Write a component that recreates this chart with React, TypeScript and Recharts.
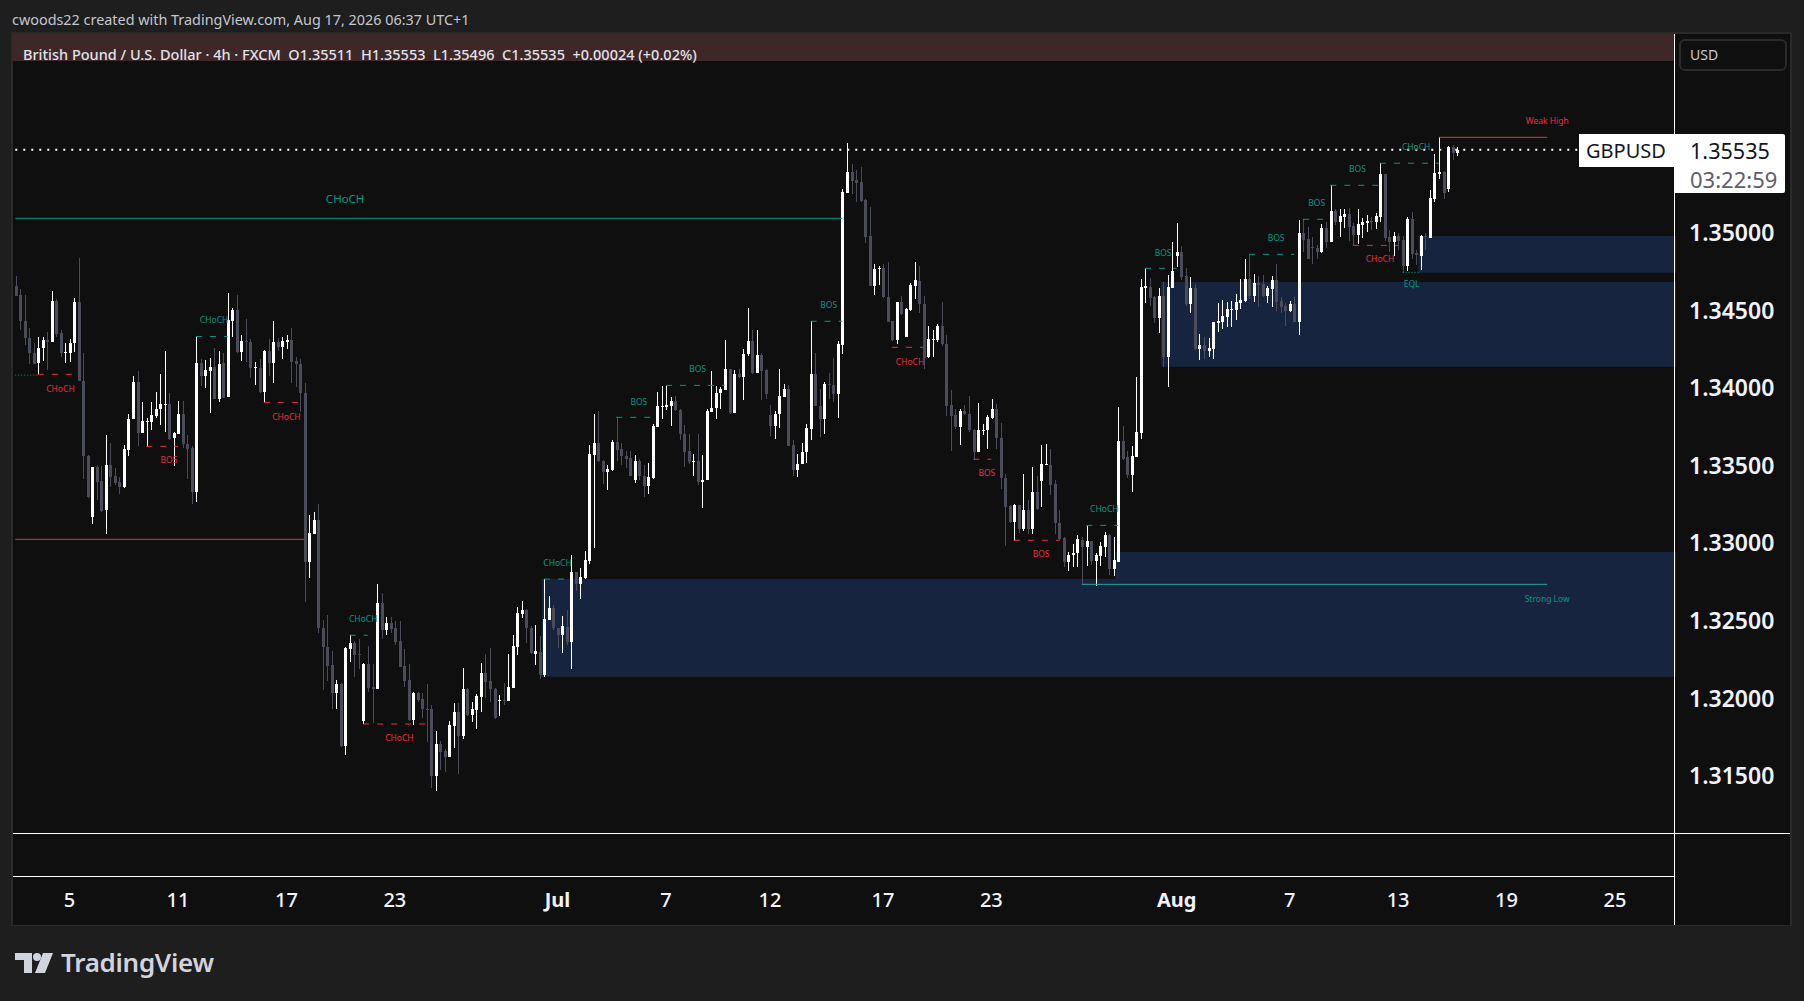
import { Bar, ComposedChart, ReferenceArea, ReferenceDot, ReferenceLine, XAxis, YAxis } from 'recharts';

// [open, high, low, close]
const juneCandles = [
  [1.3466, 1.34724, 1.34591, 1.34595], [1.346, 1.34637, 1.34372, 1.3443], [1.3443, 1.346, 1.3428, 1.34319], [1.34324, 1.34384, 1.34154, 1.34223],
  [1.34227, 1.34292, 1.34154, 1.34154], [1.34158, 1.34326, 1.34089, 1.34257], [1.34257, 1.34326, 1.34177, 1.3431], [1.3431, 1.34361, 1.34119, 1.34296],
  [1.34299, 1.34625, 1.34299, 1.34561], [1.34561, 1.34572, 1.34326, 1.34349], [1.34356, 1.34372, 1.342, 1.34227], [1.34225, 1.34292, 1.34158, 1.34234],
  [1.34227, 1.34315, 1.34165, 1.34289], [1.34287, 1.34579, 1.34234, 1.34552], [1.34552, 1.34839, 1.34045, 1.34045], [1.34045, 1.34223, 1.33413, 1.3356],
  [1.33563, 1.33567, 1.33291, 1.33296], [1.33172, 1.33491, 1.33126, 1.33491], [1.33491, 1.33505, 1.3328, 1.33395], [1.33402, 1.33498, 1.33199, 1.33206],
  [1.33211, 1.33698, 1.33061, 1.33505], [1.33505, 1.33648, 1.3336, 1.33429], [1.33434, 1.33487, 1.33376, 1.3339], [1.33395, 1.33429, 1.33314, 1.33362],
  [1.33362, 1.33631, 1.33358, 1.33608], [1.33602, 1.33832, 1.33563, 1.33802], [1.33797, 1.3408, 1.33797, 1.34039], [1.34039, 1.34108, 1.33625, 1.33712],
  [1.33712, 1.33908, 1.33712, 1.33786], [1.33781, 1.33809, 1.33625, 1.33788], [1.33781, 1.33908, 1.33728, 1.33827], [1.3382, 1.33974, 1.33804, 1.33866],
  [1.33862, 1.34089, 1.33763, 1.33894], [1.33891, 1.34239, 1.33717, 1.33898], [1.33896, 1.3397, 1.33666, 1.33671], [1.33675, 1.33717, 1.33498, 1.3371],
  [1.33701, 1.33919, 1.33701, 1.33832], [1.33832, 1.33919, 1.33613, 1.33636], [1.33641, 1.33694, 1.33411, 1.33608], [1.33613, 1.33625, 1.3325, 1.33333],
  [1.3333, 1.34333, 1.33268, 1.34161], [1.34161, 1.34188, 1.34016, 1.3408], [1.3408, 1.34181, 1.33997, 1.34119], [1.34112, 1.34195, 1.33836, 1.34135],
  [1.34135, 1.34257, 1.33928, 1.3393], [1.3393, 1.34239, 1.33908, 1.34154], [1.34158, 1.34223, 1.33935, 1.33935], [1.3394, 1.34614, 1.3394, 1.34441],
  [1.34434, 1.34517, 1.34326, 1.34503], [1.34503, 1.346, 1.34223, 1.3423], [1.3423, 1.34342, 1.34177, 1.34303], [1.34303, 1.34446, 1.34165, 1.34296],
  [1.34296, 1.34315, 1.34066, 1.34126], [1.34126, 1.3417, 1.3402, 1.34133], [1.34131, 1.34188, 1.3397, 1.33974], [1.33974, 1.34246, 1.33912, 1.34239],
  [1.34239, 1.34315, 1.3408, 1.34158], [1.34158, 1.34434, 1.34034, 1.34296], [1.34296, 1.34319, 1.34239, 1.34262], [1.34262, 1.34326, 1.34184, 1.34303],
  [1.34299, 1.34342, 1.34253, 1.34308], [1.34308, 1.34388, 1.34034, 1.3417], [1.34172, 1.342, 1.34004, 1.34154], [1.34154, 1.34188, 1.33843, 1.33965],
  [1.3397, 1.34032, 1.32624, 1.32882], [1.32882, 1.33183, 1.32779, 1.33065], [1.3306, 1.332, 1.3306, 1.33151], [1.33151, 1.33254, 1.3242, 1.32452],
  [1.32452, 1.32506, 1.32054, 1.32334], [1.32334, 1.32538, 1.32112, 1.32211], [1.32215, 1.32308, 1.31931, 1.32037], [1.32037, 1.32119, 1.31931, 1.32093],
  [1.32093, 1.32097, 1.31689, 1.31693], [1.31693, 1.32334, 1.31635, 1.32327], [1.32318, 1.32409, 1.32237, 1.32357], [1.32357, 1.32372, 1.3214, 1.3228],
  [1.32286, 1.32383, 1.32187, 1.3228], [1.31854, 1.32226, 1.31833, 1.32222], [1.3222, 1.32338, 1.32043, 1.32069], [1.32071, 1.3222, 1.31843, 1.32058],
  [1.32058, 1.32738, 1.32058, 1.32615], [1.32613, 1.32682, 1.32383, 1.32441], [1.32441, 1.32525, 1.32409, 1.32484], [1.32484, 1.32523, 1.3242, 1.3245],
  [1.32452, 1.32501, 1.32344, 1.32366], [1.32368, 1.32497, 1.32205, 1.32205], [1.32209, 1.32318, 1.32076, 1.32114], [1.32118, 1.32222, 1.31854, 1.31861],
  [1.31861, 1.32041, 1.31828, 1.32035], [1.32035, 1.32043, 1.31979, 1.3199], [1.31996, 1.32033, 1.31876, 1.31929], [1.31934, 1.32093, 1.31721, 1.31925],
  [1.31929, 1.31957, 1.31424, 1.31501], [1.31501, 1.3179, 1.31405, 1.31706], [1.31704, 1.31727, 1.31538, 1.31656], [1.31661, 1.31673, 1.31527, 1.31624],
  [1.31624, 1.31854, 1.31624, 1.31828], [1.31824, 1.3197, 1.31682, 1.3191], [1.3191, 1.31968, 1.31516, 1.31759], [1.31759, 1.32196, 1.31738, 1.3206],
  [1.3206, 1.32065, 1.31886, 1.31893], [1.31893, 1.31974, 1.31845, 1.31931], [1.31925, 1.32026, 1.31802, 1.32015], [1.32011, 1.32226, 1.31914, 1.32162],
  [1.32162, 1.32284, 1.32005, 1.32108], [1.3211, 1.32323, 1.31979, 1.32058], [1.32058, 1.32065, 1.31865, 1.31871], [1.31983, 1.32022, 1.31888, 1.31992],
  [1.31992, 1.32101, 1.31957, 1.31983], [1.31985, 1.32284, 1.31985, 1.32071], [1.32069, 1.32409, 1.32069, 1.32338], [1.32334, 1.32587, 1.3228, 1.32549],
  [1.32544, 1.32628, 1.32516, 1.3257], [1.3257, 1.32574, 1.32359, 1.32452], [1.32452, 1.32467, 1.32286, 1.32291], [1.32286, 1.32473, 1.32215, 1.32306],
];

const julyCandles = [
  [1.32301, 1.32402, 1.32125, 1.32151], [1.32151, 1.3277, 1.3214, 1.32512], [1.32505, 1.3266, 1.32505, 1.32583], [1.32581, 1.32602, 1.32441, 1.32452],
  [1.32456, 1.32456, 1.32327, 1.32409], [1.32409, 1.32531, 1.32295, 1.32467], [1.32462, 1.3257, 1.32344, 1.32366], [1.32366, 1.32925, 1.32189, 1.32815],
  [1.32815, 1.32815, 1.32693, 1.32738], [1.32738, 1.32843, 1.32641, 1.32783], [1.32779, 1.32951, 1.3277, 1.32892], [1.32886, 1.33634, 1.32867, 1.33576],
  [1.3357, 1.33834, 1.32968, 1.33647], [1.33647, 1.33854, 1.33522, 1.33527], [1.33531, 1.33538, 1.33383, 1.33456], [1.33456, 1.33505, 1.33344, 1.33479],
  [1.33473, 1.33667, 1.33467, 1.33654], [1.33654, 1.33811, 1.33527, 1.33602], [1.33606, 1.33645, 1.33505, 1.33559], [1.33563, 1.33591, 1.33484, 1.33544],
  [1.33548, 1.33591, 1.3343, 1.33434], [1.33409, 1.3357, 1.33391, 1.33531], [1.33531, 1.33542, 1.33409, 1.3343], [1.33434, 1.33505, 1.33295, 1.3337],
  [1.3337, 1.33516, 1.33316, 1.33428], [1.33419, 1.3377, 1.33413, 1.33757], [1.33749, 1.33972, 1.33749, 1.33882], [1.33878, 1.34013, 1.33802, 1.33886],
  [1.33878, 1.34013, 1.33856, 1.33888], [1.33882, 1.33942, 1.33753, 1.33914], [1.33914, 1.33951, 1.33852, 1.33856], [1.33856, 1.33867, 1.33663, 1.33706],
  [1.33706, 1.33759, 1.33491, 1.33587], [1.33592, 1.33706, 1.33512, 1.33523], [1.33523, 1.33577, 1.3343, 1.33532], [1.33529, 1.33701, 1.33372, 1.33394],
  [1.33394, 1.33566, 1.33226, 1.33409], [1.33405, 1.33863, 1.33405, 1.3385], [1.33845, 1.34108, 1.33845, 1.33873], [1.33871, 1.34013, 1.33798, 1.3397],
  [1.33968, 1.34007, 1.33867, 1.33992], [1.3399, 1.34308, 1.33985, 1.34125], [1.34125, 1.34125, 1.33835, 1.33839], [1.33839, 1.34114, 1.33839, 1.34093],
  [1.34093, 1.34125, 1.34067, 1.34071], [1.34071, 1.34254, 1.33921, 1.34222], [1.34217, 1.34518, 1.34205, 1.34301], [1.34301, 1.34372, 1.34093, 1.34097],
  [1.34097, 1.34372, 1.34097, 1.34211], [1.34211, 1.34228, 1.33921, 1.3411], [1.34114, 1.34125, 1.33931, 1.33959], [1.33824, 1.33888, 1.33689, 1.33755],
  [1.33755, 1.3385, 1.33669, 1.33835], [1.3383, 1.34121, 1.33744, 1.33947], [1.33942, 1.34028, 1.33942, 1.33992], [1.33992, 1.34017, 1.33624, 1.33626],
  [1.3363, 1.33663, 1.33431, 1.33474], [1.33469, 1.33572, 1.33426, 1.33512], [1.33508, 1.33646, 1.33508, 1.3359], [1.33587, 1.33766, 1.33517, 1.33744],
  [1.33738, 1.3443, 1.33667, 1.34093], [1.34093, 1.34228, 1.33882, 1.33884], [1.33884, 1.33992, 1.33684, 1.33798], [1.33798, 1.34039, 1.33701, 1.34028],
  [1.34028, 1.34097, 1.33931, 1.34017], [1.34022, 1.34196, 1.3391, 1.33959], [1.33959, 1.34301, 1.33807, 1.34282], [1.34275, 1.3528, 1.34222, 1.3526],
  [1.35258, 1.35576, 1.35258, 1.35389], [1.35389, 1.35441, 1.35249, 1.35335], [1.3534, 1.35404, 1.352, 1.35323], [1.35325, 1.35421, 1.352, 1.35204],
  [1.35211, 1.35215, 1.34936, 1.34974], [1.34978, 1.35168, 1.34656, 1.34658], [1.34658, 1.34802, 1.34598, 1.34766], [1.34766, 1.34787, 1.34662, 1.34772],
  [1.3477, 1.34798, 1.34581, 1.34587], [1.34587, 1.34809, 1.34424, 1.34426], [1.3443, 1.34432, 1.34301, 1.34308], [1.34308, 1.34555, 1.34282, 1.34555],
  [1.34555, 1.34594, 1.34473, 1.34475], [1.34329, 1.34518, 1.34329, 1.34508], [1.34501, 1.34678, 1.34497, 1.34662], [1.34658, 1.34809, 1.34572, 1.34695],
  [1.3469, 1.34785, 1.3448, 1.34542], [1.34544, 1.34592, 1.34123, 1.34196], [1.34198, 1.34398, 1.34194, 1.34314], [1.34308, 1.34372, 1.342, 1.34316],
  [1.34312, 1.34411, 1.34295, 1.34398], [1.34398, 1.34551, 1.34269, 1.34286], [1.34286, 1.3434, 1.3382, 1.33884], [1.33888, 1.3399, 1.33594, 1.33817],
  [1.33824, 1.33867, 1.33738, 1.33749], [1.33749, 1.33867, 1.3363, 1.3385], [1.3385, 1.33888, 1.33824, 1.3383], [1.33835, 1.33951, 1.33716, 1.33727],
  [1.33731, 1.33738, 1.33538, 1.33587], [1.33587, 1.33906, 1.33587, 1.33727], [1.33721, 1.3377, 1.33695, 1.33731], [1.33727, 1.33824, 1.33609, 1.33811],
  [1.33805, 1.33931, 1.33798, 1.33867], [1.33867, 1.33899, 1.33609, 1.33678], [1.3368, 1.33777, 1.33351, 1.3342], [1.33422, 1.33448, 1.32985, 1.33233],
  [1.33237, 1.33243, 1.3313, 1.33136], [1.33136, 1.3325, 1.33016, 1.33243], [1.33243, 1.33243, 1.33067, 1.33093], [1.33093, 1.33443, 1.33078, 1.33211],
  [1.33211, 1.33276, 1.33061, 1.33093], [1.33093, 1.33491, 1.33061, 1.33327], [1.33327, 1.33431, 1.33211, 1.3322], [1.33398, 1.3363, 1.33233, 1.33508],
  [1.33501, 1.33637, 1.33501, 1.3351], [1.33506, 1.33609, 1.33308, 1.33372], [1.33379, 1.33409, 1.33061, 1.3313], [1.33132, 1.33211, 1.33013, 1.33024],
  [1.33031, 1.33039, 1.32846, 1.32878], [1.32878, 1.32942, 1.32818, 1.32925], [1.32921, 1.32996, 1.32846, 1.32938], [1.32936, 1.3305, 1.32846, 1.33024],
  [1.33022, 1.33039, 1.32732, 1.32975], [1.32975, 1.3311, 1.32856, 1.33011], [1.33011, 1.33013, 1.32861, 1.32884], [1.32884, 1.32938, 1.32723, 1.32921],
  [1.32917, 1.33007, 1.32856, 1.32979], [1.32975, 1.33071, 1.3291, 1.33054], [1.33054, 1.33061, 1.32792, 1.32835], [1.32831, 1.33039, 1.32788, 1.32889],
  [1.32882, 1.33878, 1.32878, 1.33656], [1.33656, 1.33753, 1.33534, 1.33544], [1.33555, 1.33594, 1.3342, 1.33437], [1.33437, 1.33624, 1.33329, 1.3356],
  [1.33553, 1.34071, 1.33553, 1.33714], [1.3371, 1.34705, 1.33669, 1.3465], [1.34645, 1.3477, 1.34549, 1.34656], [1.34652, 1.3471, 1.34529, 1.34581],
  [1.34587, 1.34592, 1.3442, 1.34452], [1.3445, 1.34641, 1.34355, 1.34592], [1.34592, 1.3468, 1.34136, 1.342], [1.34198, 1.34727, 1.34007, 1.3465],
  [1.34645, 1.34938, 1.34645, 1.34753],
];

const augustCandles = [
  [1.3485, 1.3506, 1.34781, 1.34875], [1.34875, 1.34916, 1.34695, 1.34716], [1.3472, 1.34776, 1.34529, 1.3454], [1.3454, 1.34712, 1.34486, 1.34643],
  [1.34643, 1.34669, 1.34243, 1.3425], [1.3425, 1.34346, 1.34179, 1.34275], [1.34275, 1.34329, 1.34189, 1.34239], [1.34239, 1.34325, 1.342, 1.34256],
  [1.34252, 1.34424, 1.34189, 1.34424], [1.3442, 1.34546, 1.34361, 1.3443], [1.34424, 1.34564, 1.34379, 1.34462], [1.34458, 1.34551, 1.34394, 1.34508],
  [1.34501, 1.34559, 1.34394, 1.3451], [1.34501, 1.34604, 1.34437, 1.34553], [1.34549, 1.34701, 1.34508, 1.34566], [1.34559, 1.34834, 1.34555, 1.34701],
  [1.34701, 1.3486, 1.34572, 1.34594], [1.34594, 1.34733, 1.34553, 1.34675], [1.34675, 1.34723, 1.34523, 1.34665], [1.34669, 1.34727, 1.34587, 1.34594],
  [1.34594, 1.34658, 1.34549, 1.34643], [1.34639, 1.34723, 1.34523, 1.34695], [1.34695, 1.34798, 1.34495, 1.34555], [1.34559, 1.34587, 1.34486, 1.34523],
  [1.34525, 1.34549, 1.34398, 1.34495], [1.34495, 1.34561, 1.34488, 1.34538], [1.34538, 1.34587, 1.34422, 1.34426], [1.34424, 1.35082, 1.3434, 1.34998],
  [1.34998, 1.35087, 1.34877, 1.34953], [1.34957, 1.35034, 1.3483, 1.34834], [1.3491, 1.3497, 1.34802, 1.34901], [1.34901, 1.3492, 1.3483, 1.34875],
  [1.34873, 1.35054, 1.34867, 1.3503], [1.3503, 1.35071, 1.34899, 1.34942], [1.3494, 1.35305, 1.3494, 1.3514], [1.3514, 1.35151, 1.35049, 1.35071],
  [1.35069, 1.35151, 1.34974, 1.35108], [1.35103, 1.35151, 1.35032, 1.3512], [1.3512, 1.35157, 1.34948, 1.35039], [1.35043, 1.3506, 1.3492, 1.34985],
  [1.34985, 1.35153, 1.34925, 1.35056], [1.35052, 1.35097, 1.34968, 1.35069], [1.3506, 1.35114, 1.35006, 1.35075], [1.35077, 1.35099, 1.35017, 1.35069],
  [1.35069, 1.35125, 1.35022, 1.35108], [1.35101, 1.35447, 1.35071, 1.35378], [1.35378, 1.35378, 1.34948, 1.34968], [1.34972, 1.35017, 1.34877, 1.34938],
  [1.34938, 1.35004, 1.34852, 1.34978], [1.34978, 1.34996, 1.34888, 1.34946], [1.34951, 1.34978, 1.34738, 1.34787], [1.34787, 1.35099, 1.34755, 1.35088],
  [1.35088, 1.35131, 1.3483, 1.34862], [1.34867, 1.34892, 1.34791, 1.34858], [1.34852, 1.34985, 1.34759, 1.34978], [1.34978, 1.34996, 1.34892, 1.3497],
  [1.34968, 1.35275, 1.34968, 1.35221], [1.35219, 1.35507, 1.352, 1.35383], [1.35378, 1.35615, 1.35346, 1.35391], [1.35391, 1.35398, 1.35217, 1.35258],
  [1.35282, 1.35559, 1.35264, 1.3555], [1.3555, 1.35565, 1.35469, 1.35512], [1.35511, 1.35553, 1.35496, 1.35535],
];

const priceTicks = [1.315, 1.32, 1.325, 1.33, 1.335, 1.34, 1.345, 1.35];
const timeTickIndex = [12, 36, 60, 84, 120, 144, 167, 192, 216, 257, 282, 306, 330, 354];
const timeTickLabel = ['5', '11', '17', '23', 'Jul', '7', '12', '17', '23', 'Aug', '7', '13', '19', '25'];
const monthLabels = ['Jul', 'Aug'];

// [from bar, to bar, price]
const greenDashes = [
  [40, 47, 1.34332], [74, 78, 1.32407], [117, 123, 1.32769], [133, 141, 1.33811], [144, 157, 1.34017], [176, 183, 1.3443],
  [237, 244, 1.33115], [250, 257, 1.34771], [273, 283, 1.34861], [285, 290, 1.35087], [291, 302, 1.35306], [302, 315, 1.35448],
];
const redDashes = [
  [5, 13, 1.34088], [29, 36, 1.33624], [55, 63, 1.33907], [77, 91, 1.31835], [194, 201, 1.34262],
  [212, 216, 1.33541], [221, 231, 1.33019], [296, 306, 1.34919],
];
const dottedEquals = [[0, 5, 1.34083], [307, 311, 1.34745]];
const greenSolid = [[0, 183, 1.35093]];
const redSolid = [[0, 64, 1.33025], [315, 339, 1.35615]];
const tealSolid = [[236, 339, 1.32735]];

// [first bar, top price, bottom price]
const zones = [
  [117, 1.32769, 1.3214],
  [244, 1.32943, 1.32769],
  [254, 1.34683, 1.34137],
  [311, 1.34979, 1.34743],
];

// [text, bar, price]
const greenLabels = [
  ['CHoCH', 44, 1.34441], ['CHoCH', 77, 1.32512], ['CHoCH', 120, 1.32872], ['BOS', 138, 1.3391], ['BOS', 151, 1.34122], ['BOS', 180, 1.34535],
  ['CHoCH', 241, 1.3322], ['BOS', 254, 1.3487], ['BOS', 279, 1.34966], ['BOS', 288, 1.35192], ['BOS', 297, 1.35411], ['CHoCH', 310, 1.35552],
  ['EQL', 309, 1.3467], ['Strong Low', 339, 1.3264],
];
const redLabels = [
  ['CHoCH', 10, 1.33992], ['BOS', 34, 1.33536], ['CHoCH', 60, 1.33814], ['CHoCH', 85, 1.31745], ['CHoCH', 198, 1.34168],
  ['BOS', 215, 1.33454], ['BOS', 227, 1.3293], ['CHoCH', 302, 1.34831], ['Weak High', 339, 1.35717],
];
const mainLabel = ['CHoCH', 73, 1.35218];

const lastPrice = 1.35535;
const lastPriceEnd = 347;
const totalBars = 368;

const allCandles = [...juneCandles, ...julyCandles, ...augustCandles];
const rows = Array.from({ length: totalBars }, (_, idx) => {
  const c = allCandles[idx];
  return c ? { idx, open: c[0], high: c[1], low: c[2], close: c[3] } : { idx };
});

const UP = '#ffffff';
const DOWN = '#4a4c59';
const GREEN = '#089981';
const RED = '#e8303f';
const FONT = '"Noto Sans", sans-serif';

const Candle = (props: any) => {
  const { x, y, width, height, payload } = props;
  if (payload.high == null) return null;
  const k = height / (payload.high - payload.low);
  const top = y + (payload.high - Math.max(payload.open, payload.close)) * k;
  const bodyH = Math.max(Math.abs(payload.open - payload.close) * k, 1);
  const cx = Math.round(x + width / 2);
  const fill = payload.close >= payload.open ? UP : DOWN;
  return (
    <g shapeRendering='crispEdges'>
      <rect x={cx} y={y} width={1} height={height} fill={fill} />
      <rect x={cx - 1} y={top} width={3} height={bodyH} fill={fill} />
    </g>
  );
};

const TimeTick = ({ x, y, payload }: any) => {
  const text = timeTickLabel[timeTickIndex.indexOf(payload.value)];
  return (
    <text x={x} y={y} textAnchor='middle' fill='#f0f3fa' fontFamily={FONT} fontSize={20} fontWeight={monthLabels.includes(text) ? 700 : 500}>
      {text}
    </text>
  );
};

const segments = (list: number[][], color: string, width: number, dash?: string) =>
  list.map(([from, to, price]) => (
    <ReferenceLine
      key={`${from}-${to}-${price}`}
      segment={[{ x: from, y: price }, { x: to, y: price }]}
      stroke={color}
      strokeWidth={width}
      strokeDasharray={dash}
      ifOverflow='visible'
    />
  ));

const labels = (list: any[], color: string, size: number) =>
  list.map(([text, bar, price]) => (
    <ReferenceDot
      key={`${text}-${bar}`}
      x={bar}
      y={price}
      r={0}
      stroke='none'
      fill='none'
      ifOverflow='visible'
      label={{ value: text, position: 'center', fill: color, fontSize: size, fontFamily: FONT }}
    />
  ));

const box = (left: number, top: number, width: number, height: number, background: string) => ({
  position: 'absolute' as const, left, top, width, height, background,
});

export default function App() {
  return (
    <div style={{ ...box(0, 0, 1804, 1001, '#1e1e1e'), overflow: 'hidden', fontFamily: FONT }}>
      <div style={{ position: 'absolute', left: 12, top: 10, fontSize: 14.4, color: '#c4c7cf', whiteSpace: 'pre' }}>
        cwoods22 created with TradingView.com, Aug 17, 2026 06:37 UTC+1
      </div>
      <div style={box(11, 32, 1781, 894, '#2a2a2a')} />
      <div style={box(13, 34, 1777, 891, '#0f0f0f')} />
      <div style={box(13, 34, 1661, 27, '#3e2727')} />
      <div style={{ position: 'absolute', left: 23, top: 44, fontSize: 14.5, fontWeight: 500, color: '#e0e3eb', whiteSpace: 'pre' }}>
        British Pound / U.S. Dollar · 4h · FXCM{'  '}O1.35511{'  '}H1.35553{'  '}L1.35496{'  '}C1.35535{'  '}+0.00024 (+0.02%)
      </div>
      <div style={box(13, 833, 1777, 1, '#ffffff')} />
      <div style={box(13, 876, 1661, 1, '#ffffff')} />
      <div style={{ ...box(1679, 39, 108, 32, 'transparent'), border: '2px solid #2a2a2a', borderRadius: 6, boxSizing: 'border-box', color: '#c8cad0', fontSize: 14, lineHeight: '28px', paddingLeft: 9 }}>
        USD
      </div>

      <div style={{ position: 'absolute', left: 0, top: 0 }}>
        <ComposedChart width={1804} height={1001} data={rows} margin={{ top: 33, right: 0, bottom: 0, left: 13 }} barCategoryGap={0}>
          <XAxis
            dataKey='idx'
            ticks={timeTickIndex}
            interval={0}
            height={168}
            axisLine={false}
            tickLine={false}
            tickMargin={68}
            tick={<TimeTick />}
          />
          <YAxis
            orientation='right'
            width={128}
            domain={[1.31133, 1.36287]}
            allowDataOverflow
            ticks={priceTicks}
            interval={0}
            axisLine={false}
            tickLine={false}
            tickMargin={7}
            tickFormatter={(v: number) => v.toFixed(5)}
            tick={{ fill: '#f0f3fa', fontSize: 23, fontWeight: 600, fontFamily: FONT }}
          />
          {zones.map(([from, top, bottom]) => (
            <ReferenceArea key={from} x1={from} x2={totalBars - 1} y1={bottom} y2={top} fill='#16243f' fillOpacity={1} stroke='none' ifOverflow='visible' />
          ))}
          <Bar
            dataKey={(d: any) => (d.high == null ? undefined : [d.low, d.high])}
            barSize={3}
            shape={<Candle />}
            isAnimationActive={false}
          />
          {segments(greenSolid, GREEN, 1)}
          {segments(redSolid, '#d9363e', 1)}
          {segments(tealSolid, '#26a69a', 1)}
          {segments(greenDashes, GREEN, 1, '6 8')}
          {segments(redDashes, RED, 1, '6 8')}
          {segments(dottedEquals, GREEN, 1, '1 2')}
          <ReferenceLine
            segment={[{ x: 0, y: lastPrice }, { x: lastPriceEnd, y: lastPrice }]}
            stroke='#ffffff'
            strokeWidth={2}
            strokeDasharray='2 6'
            ifOverflow='visible'
          />
          {labels(greenLabels, GREEN, 8.5)}
          {labels(redLabels, RED, 8.5)}
          {labels([mainLabel], GREEN, 11.5)}
        </ComposedChart>
      </div>

      <div style={box(1674, 34, 1, 891, '#ffffff')} />
      <div style={{ ...box(1579, 134, 96, 33, '#ffffff'), color: '#131722', fontSize: 20, lineHeight: '33px', paddingLeft: 7, boxSizing: 'border-box' }}>GBPUSD</div>
      <div style={{ ...box(1675, 134, 110, 59, '#ffffff'), borderRadius: '0 2px 2px 0', paddingLeft: 15, boxSizing: 'border-box' }}>
        <div style={{ color: '#131722', fontSize: 21.6, lineHeight: '33px' }}>1.35535</div>
        <div style={{ color: '#5d606b', fontSize: 22, lineHeight: '24px' }}>03:22:59</div>
      </div>

      <svg style={{ position: 'absolute', left: 15, top: 952 }} width={38} height={22} viewBox='0 0 38 22'>
        <path d='M0 1h17v20H9V8H0z' fill='#d1d4dc' />
        <circle cx={22} cy={5} r={4} fill='#d1d4dc' />
        <path d='M28 1h10l-8 20H20z' fill='#d1d4dc' />
      </svg>
      <div style={{ position: 'absolute', left: 61, top: 944, fontSize: 26, fontWeight: 600, color: '#d1d4dc', letterSpacing: -0.3 }}>TradingView</div>
    </div>
  );
}
